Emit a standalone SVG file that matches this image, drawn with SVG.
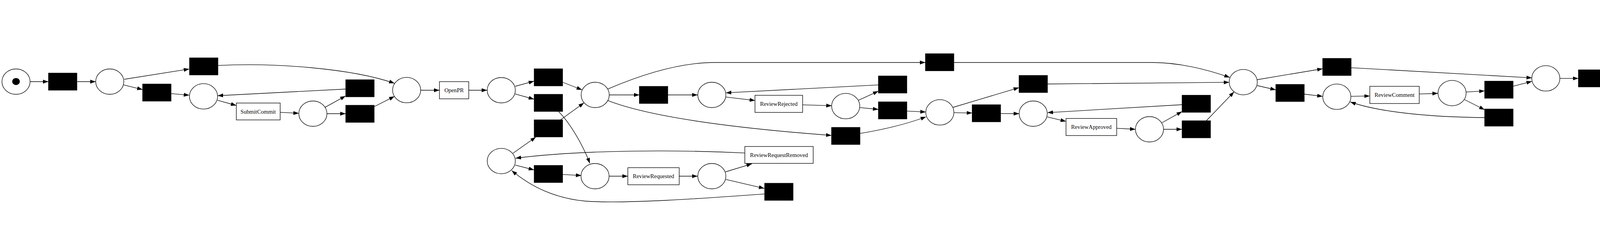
<svg xmlns="http://www.w3.org/2000/svg" width="5765" height="576" viewBox="0 0 5765 576">
<style>
.pl{fill:#fff;stroke:#000;stroke-width:1.33}
.si{fill:#000;stroke:#000;stroke-width:1}
.tk{fill:#fff;stroke:#000;stroke-width:1.33}
.lb{font-family:'Liberation Serif','Times New Roman',serif;font-size:14.67px;text-anchor:middle;fill:#000}
.e{fill:none;stroke:#000;stroke-width:1.33;marker-end:url(#arr)}
</style>
<defs>
<marker id="arr" markerUnits="userSpaceOnUse" markerWidth="14" markerHeight="10" viewBox="0 0 13.3 9.4" refX="13.3" refY="4.7" orient="auto">
<path d="M0,0 L13.3,4.7 L0,9.4 z" fill="#000"/>
</marker>
</defs>
<rect width="5765" height="576" fill="#fff"/>
<g id="connectors">
<path class="e" d="M77,209 L124,209"/>
<path class="e" d="M198,209 L245,209"/>
<path class="e" d="M318,203 L484.5,176.7"/>
<path class="e" d="M316.7,217.3 L365,229.3"/>
<path class="e" d="M437.7,239.7 L484.5,243.7"/>
<path class="e" d="M557.7,167.7 C700,160 900,175 1010,213.3"/>
<path class="e" d="M884.7,228 L557.3,245"/>
<path class="e" d="M556.7,256.7 L605,270"/>
<path class="e" d="M717.7,287.7 L765,290"/>
<path class="e" d="M832.7,274.3 L884.7,245.7"/>
<path class="e" d="M837,291 L885,291"/>
<path class="e" d="M958,273 L1010,246.7"/>
<path class="e" d="M1077,231 L1125,231"/>
<path class="e" d="M1200,231 L1247,231"/>
<path class="e" d="M1319,221 L1367.3,207.7"/>
<path class="e" d="M1319,240.7 L1367.3,254"/>
<path class="e" d="M1313.3,392.3 L1371.7,351"/>
<path class="e" d="M1319,422.7 L1367.3,435"/>
<path class="e" d="M1906.7,391.7 C1750,384 1500,382 1320,405"/>
<path class="e" d="M1957,496.7 C1800,508 1600,522 1500,515 C1420,508 1360,478 1310,436.7"/>
<path class="e" d="M1440.3,210.5 L1490,230"/>
<path class="e" d="M1430,285.7 C1455,310 1490,365 1510,418.3"/>
<path class="e" d="M1435,306.7 L1495,263.3"/>
<path class="e" d="M1440,446.7 L1488.3,449.3"/>
<path class="e" d="M1556.7,227.7 C1640,192 1740,160 1830,160 L2369,160"/>
<path class="e" d="M1560,243 L1637,243"/>
<path class="e" d="M1710,243 L1786,243"/>
<path class="e" d="M1556.7,257.7 C1640,290 1800,322 2128.7,346.7"/>
<path class="e" d="M2248.7,217.3 L1858.3,237.7"/>
<path class="e" d="M1858.3,248.3 L1933,257.3"/>
<path class="e" d="M2054.7,268.3 L2129.3,270.7"/>
<path class="e" d="M2197.7,256.7 L2248.7,233.3"/>
<path class="e" d="M2201,275.3 L2248.7,280"/>
<path class="e" d="M2321.7,284.3 L2370,286.7"/>
<path class="e" d="M2201.7,341.7 C2260,332 2320,318 2370.7,299"/>
<path class="e" d="M1560,451 L1607.3,451"/>
<path class="e" d="M1738.7,451 L1786,451"/>
<path class="e" d="M1857.3,440 L1925,419.3"/>
<path class="e" d="M1858.3,459.3 L1956.7,482.3"/>
<path class="e" d="M2441.7,160 L2950,160 C3020,160 3090,178 3148.3,198.3"/>
<path class="e" d="M2439.3,275 L2608.7,224.3"/>
<path class="e" d="M2681.7,215 L3146.7,210.7"/>
<path class="e" d="M2441.7,288.3 L2488.7,289.3"/>
<path class="e" d="M2561.7,290.7 L2609,291"/>
<path class="e" d="M3026,268 L2681.7,288.3"/>
<path class="e" d="M2681,299.3 L2729,310.7"/>
<path class="e" d="M2858.7,328.3 L2906.7,331"/>
<path class="e" d="M2975,314 L3026,285.7"/>
<path class="e" d="M2978.7,331 L3026,331"/>
<path class="e" d="M3088.3,309 L3159.3,235"/>
<path class="e" d="M3218.3,204 L3386,176"/>
<path class="e" d="M3218.3,219 L3266,230"/>
<path class="e" d="M3339,241 L3386,246.7"/>
<path class="e" d="M3459,173.3 L3921.7,199.3"/>
<path class="e" d="M3459,246.7 L3506.7,245.7"/>
<path class="e" d="M3633.3,240.7 L3681,239"/>
<path class="e" d="M3753.3,235.7 L3800.7,232.7"/>
<path class="e" d="M3749.3,255 L3800.7,281"/>
<path class="e" d="M3800.7,301 C3680,300 3540,290 3456.7,261"/>
<path class="e" d="M3874,220.7 L3921.7,208.3"/>
<path class="e" d="M3993.3,200.7 L4040.7,200.7"/>
<path class="e" d="M4114,187.3 L4164,169"/>
<path class="e" d="M4114,214.3 L4164,232.3"/>
<path class="e" d="M4233.3,157 L4301,157"/>
<path class="e" d="M4560.7,118.3 C4460,100 4300,102 4230,141.7"/>
<path class="e" d="M4233.3,244.3 L4281,244.3"/>
<path class="e" d="M4560.7,300.7 C4460,300 4300,292 4230,259.3"/>
<path class="e" d="M4373.3,157 L4441.7,157"/>
<path class="e" d="M4393.3,244.3 L4441.7,244.3"/>
<path class="e" d="M4512.7,147.3 L4560.7,134"/>
<path class="e" d="M4511.7,168.3 L4560.7,184"/>
<path class="e" d="M4510.7,230.7 L4560.7,210"/>
<path class="e" d="M4509.3,259.3 L4560.7,283.3"/>
<path class="e" d="M4633.7,182.7 L4683.3,164.3"/>
<path class="e" d="M4633.7,209.3 L4683.3,227.3"/>
<path class="e" d="M4750,136 L4803.3,108.3"/>
<path class="e" d="M4753.3,153 L4924.7,157.3"/>
<path class="e" d="M4753.3,239.3 L4801,239.3"/>
<path class="e" d="M4876,88.3 L4925.3,85"/>
<path class="e" d="M4996.7,72 L5051.7,56.7"/>
<path class="e" d="M5142.7,41.3 L5197.3,39"/>
<path class="e" d="M5316.7,100 L4997.3,84.3"/>
<path class="e" d="M4997.7,158.3 L5436.7,158.3"/>
<path class="e" d="M4877.3,239.3 L4925,239.3"/>
<path class="e" d="M4997.3,233.3 L5060.7,224.3"/>
<path class="e" d="M4996,250.7 L5045,266.7"/>
<path class="e" d="M5133.7,220.7 L5197.3,223.3"/>
<path class="e" d="M5149.3,261.7 L5200,239"/>
<path class="e" d="M5269.3,37.3 L5316.7,37.3"/>
<path class="e" d="M5265,54 L5316.7,82.7"/>
<path class="e" d="M5378.3,60 L5449.3,132.7"/>
<path class="e" d="M5508.3,168.3 L5556.7,181.7"/>
<path class="e" d="M5269.3,222.7 C5380,215 5480,208 5556.7,197.3"/>
<path class="e" d="M5630,192.3 L5677.3,192.3"/>
</g>
<g id="source"><ellipse class="pl" cx="41" cy="209" rx="36" ry="32.5"/><ellipse cx="41" cy="208.7" rx="9.8" ry="9" fill="#000"/></g>
<g id="p1"><ellipse class="pl" cx="281" cy="209" rx="36" ry="32.5"/></g>
<g id="p2"><ellipse class="pl" cx="521" cy="246.7" rx="36" ry="32.5"/></g>
<g id="p4"><ellipse class="pl" cx="801" cy="291" rx="36" ry="32.5"/></g>
<g id="p3"><ellipse class="pl" cx="1041" cy="230.7" rx="36" ry="32.5"/></g>
<g id="p5"><ellipse class="pl" cx="1283.3" cy="231" rx="36" ry="32.5"/></g>
<g id="p6"><ellipse class="pl" cx="1283.3" cy="412.3" rx="36" ry="32.5"/></g>
<g id="pmid"><ellipse class="pl" cx="1523.7" cy="243" rx="36" ry="32.5"/></g>
<g id="p7"><ellipse class="pl" cx="1523.3" cy="451" rx="36" ry="32.5"/></g>
<g id="p8"><ellipse class="pl" cx="1822.3" cy="243" rx="36" ry="32.5"/></g>
<g id="p9"><ellipse class="pl" cx="1822.3" cy="451" rx="36" ry="32.5"/></g>
<g id="p10"><ellipse class="pl" cx="2165" cy="271.7" rx="36" ry="32.5"/></g>
<g id="p11"><ellipse class="pl" cx="2406" cy="287.7" rx="36" ry="32.5"/></g>
<g id="p13"><ellipse class="pl" cx="2645" cy="291" rx="36" ry="32.5"/></g>
<g id="p14"><ellipse class="pl" cx="2942.7" cy="331" rx="36" ry="32.5"/></g>
<g id="p12"><ellipse class="pl" cx="3182.7" cy="210.3" rx="36" ry="32.5"/></g>
<g id="p15"><ellipse class="pl" cx="3422.3" cy="247.7" rx="36" ry="32.5"/></g>
<g id="p17"><ellipse class="pl" cx="3717.3" cy="238.3" rx="36" ry="32.5"/></g>
<g id="p16"><ellipse class="pl" cx="3957.3" cy="200.7" rx="36" ry="32.5"/></g>
<g id="p18"><ellipse class="pl" cx="4197.3" cy="157" rx="36" ry="32.5"/></g>
<g id="p19"><ellipse class="pl" cx="4197.3" cy="244.3" rx="36" ry="32.5"/></g>
<g id="p20"><ellipse class="pl" cx="4477" cy="157" rx="36" ry="32.5"/></g>
<g id="p21"><ellipse class="pl" cx="4477" cy="244.3" rx="36" ry="32.5"/></g>
<g id="p22"><ellipse class="pl" cx="4717" cy="152.3" rx="36" ry="32.5"/></g>
<g id="p23"><ellipse class="pl" cx="4717" cy="239.3" rx="36" ry="32.5"/></g>
<g id="p24"><ellipse class="pl" cx="4961.3" cy="82" rx="36" ry="32.5"/></g>
<g id="p25"><ellipse class="pl" cx="5233.3" cy="37.3" rx="36" ry="32.5"/></g>
<g id="p27"><ellipse class="pl" cx="4961.3" cy="239.3" rx="36" ry="32.5"/></g>
<g id="p28"><ellipse class="pl" cx="5233.3" cy="225" rx="36" ry="32.5"/></g>
<g id="p26"><ellipse class="pl" cx="5473.3" cy="158.3" rx="36" ry="32.5"/></g>
<g id="sink"><ellipse class="pl" cx="5718.7" cy="192.3" rx="41.5" ry="37.5"/><ellipse class="pl" cx="5718.7" cy="192.3" rx="36" ry="32.5"/><rect x="5708" y="185" width="19.7" height="17" fill="#000"/></g>
<g id="t1"><rect class="si" x="124" y="187" width="73" height="44"/></g>
<g id="t_top"><rect class="si" x="485" y="148" width="73" height="44"/></g>
<g id="t2"><rect class="si" x="365" y="215" width="73" height="44"/></g>
<g id="t3"><rect class="si" x="885" y="204" width="73" height="44"/></g>
<g id="t4"><rect class="si" x="885" y="269.3" width="73" height="44"/></g>
<g id="t5"><rect class="si" x="1367.3" y="176" width="73" height="44"/></g>
<g id="t6"><rect class="si" x="1367.3" y="241.3" width="73" height="44"/></g>
<g id="t7"><rect class="si" x="1367.3" y="306.7" width="73" height="44"/></g>
<g id="t8"><rect class="si" x="1367.3" y="423.3" width="73" height="44"/></g>
<g id="t9"><rect class="si" x="1636.7" y="221" width="73" height="44"/></g>
<g id="t_far"><rect class="si" x="2369" y="137.3" width="73" height="44"/></g>
<g id="t10"><rect class="si" x="2248.7" y="194.3" width="73" height="44"/></g>
<g id="t12"><rect class="si" x="2248.7" y="260.7" width="73" height="44"/></g>
<g id="t11"><rect class="si" x="2128.7" y="326" width="73" height="44"/></g>
<g id="t_low"><rect class="si" x="1957.3" y="469" width="73" height="44"/></g>
<g id="t13"><rect class="si" x="2608.7" y="193" width="73" height="44"/></g>
<g id="t14"><rect class="si" x="2488.7" y="268" width="73" height="44"/></g>
<g id="t15"><rect class="si" x="3026" y="243.7" width="73" height="44"/></g>
<g id="t16"><rect class="si" x="3026" y="309" width="73" height="44"/></g>
<g id="t17"><rect class="si" x="3386" y="149.3" width="73" height="44"/></g>
<g id="t18"><rect class="si" x="3266" y="216" width="73" height="44"/></g>
<g id="t19"><rect class="si" x="3800.7" y="207.7" width="73" height="44"/></g>
<g id="t20"><rect class="si" x="3800.7" y="279" width="73" height="44"/></g>
<g id="t21"><rect class="si" x="4040.7" y="178.7" width="73" height="44"/></g>
<g id="t22"><rect class="si" x="4560.7" y="102.3" width="73" height="44"/></g>
<g id="t24"><rect class="si" x="4560.7" y="173.7" width="73" height="44"/></g>
<g id="t23"><rect class="si" x="4560.7" y="277.7" width="73" height="44"/></g>
<g id="t25"><rect class="si" x="4802.7" y="68.7" width="73" height="44"/></g>
<g id="t26"><rect class="si" x="4924.7" y="136" width="73" height="44"/></g>
<g id="t29"><rect class="si" x="5060.7" y="196.7" width="73" height="44"/></g>
<g id="t27"><rect class="si" x="5316.7" y="15" width="73" height="44"/></g>
<g id="t28"><rect class="si" x="5316.7" y="80.3" width="73" height="44"/></g>
<g id="t_final"><rect class="si" x="5556.7" y="170" width="73" height="44"/></g>
<g id="SubmitCommit"><rect class="tk" x="605" y="263.7" width="112.3" height="43.3"/><text class="lb" x="661" y="290.5">SubmitCommit</text></g>
<g id="OpenPR"><rect class="tk" x="1125" y="209" width="75" height="44"/><text class="lb" x="1162.5" y="236">OpenPR</text></g>
<g id="ReviewRequested"><rect class="tk" x="1607.3" y="429.3" width="131.4" height="43.7"/><text class="lb" x="1673" y="456">ReviewRequested</text></g>
<g id="ReviewRejected"><rect class="tk" x="1932.7" y="244" width="122" height="43.7"/><text class="lb" x="1993.7" y="270.8">ReviewRejected</text></g>
<g id="ReviewRequestRemoved"><rect class="tk" x="1906.7" y="375" width="175" height="43.3"/><text class="lb" x="1994.2" y="401.7">ReviewRequestRemoved</text></g>
<g id="ReviewApproved"><rect class="tk" x="2729" y="303.3" width="129.7" height="43.7"/><text class="lb" x="2793.8" y="330">ReviewApproved</text></g>
<g id="ReviewComment"><rect class="tk" x="3506.7" y="221" width="126.6" height="44"/><text class="lb" x="3570" y="248">ReviewComment</text></g>
<g id="Revise"><rect class="tk" x="4301" y="135.3" width="72.3" height="43.7"/><text class="lb" x="4337" y="162">Revise</text></g>
<g id="IssueComment"><rect class="tk" x="4281" y="222.3" width="112.3" height="43.7"/><text class="lb" x="4337" y="249">IssueComment</text></g>
<g id="ClosePR"><rect class="tk" x="4801" y="217.7" width="76.3" height="43.6"/><text class="lb" x="4839" y="244.5">ClosePR</text></g>
<g id="DeleteBranch"><rect class="tk" x="5045" y="262.3" width="104.3" height="43.4"/><text class="lb" x="5097" y="289">DeleteBranch</text></g>
<g id="Referenced"><rect class="tk" x="5051.7" y="21.7" width="91" height="43.6"/><text class="lb" x="5097" y="48.5">Referenced</text></g>
</svg>
